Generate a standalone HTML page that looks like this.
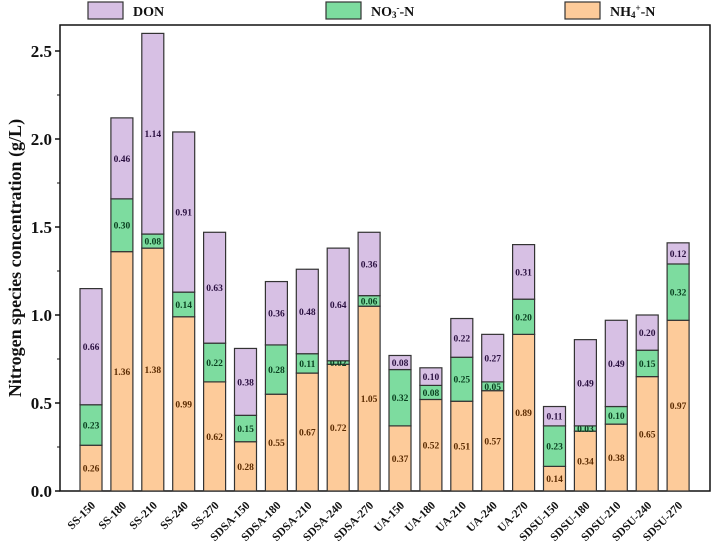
<!DOCTYPE html>
<html><head><meta charset="utf-8"><style>
html,body{margin:0;padding:0;background:#fff;}
svg{display:block;font-family:"Liberation Serif",serif;}
</style></head><body>
<svg id="chart" width="711" height="548"></svg>
<script>
const categories=["SS-150","SS-180","SS-210","SS-240","SS-270","SDSA-150","SDSA-180","SDSA-210","SDSA-240","SDSA-270","UA-150","UA-180","UA-210","UA-240","UA-270","SDSU-150","SDSU-180","SDSU-210","SDSU-240","SDSU-270"];
const nh4=[0.26,1.36,1.38,0.99,0.62,0.28,0.55,0.67,0.72,1.05,0.37,0.52,0.51,0.57,0.89,0.14,0.34,0.38,0.65,0.97];
const no3=[0.23,0.30,0.08,0.14,0.22,0.15,0.28,0.11,0.02,0.06,0.32,0.08,0.25,0.05,0.20,0.23,0.03,0.10,0.15,0.32];
const don=[0.66,0.46,1.14,0.91,0.63,0.38,0.36,0.48,0.64,0.36,0.08,0.10,0.22,0.27,0.31,0.11,0.49,0.49,0.20,0.12];
const yTicks=[0.0,0.5,1.0,1.5,2.0,2.5];

const NS="http://www.w3.org/2000/svg";
const svg=document.getElementById('chart');
function mk(t,a,p){const e=document.createElementNS(NS,t);for(const k in a)e.setAttribute(k,a[k]);(p||svg).appendChild(e);return e;}
const X0=60,X1=710,Y0=491,YT=25;
function y(v){return Y0-v*176;}
function xb(i){return 80+i*30.9;}
const BW=22;

const frame=mk('rect',{x:X0,y:YT,width:X1-X0,height:Y0-YT,fill:'none',stroke:'#111','stroke-width':1.5});



yTicks.forEach(t=>{
  const l=mk('line',{x1:X0-5,x2:X0,y1:y(t),y2:y(t),stroke:'#111','stroke-width':1.5});
  
  
  const tx=mk('text',{x:X0-8,y:y(t)+6,'text-anchor':'end','font-size':17,'font-weight':'bold',fill:'#111'});
  tx.textContent=t.toFixed(1);
  
  
});
for(let t=0.25;t<2.6;t+=0.5){
  const l=mk('line',{x1:X0-3,x2:X0,y1:y(t),y2:y(t),stroke:'#111','stroke-width':1});
  
  
}
const yt=mk('text',{x:0,y:0,transform:'translate(21,258) rotate(-90)','text-anchor':'middle','font-size':18,'font-weight':'bold',fill:'#111'});
yt.textContent='Nitrogen species concentration (g/L)';



const series=[{v:nh4,f:'#fdcb9a',c:'#5a2a00',n:'nh4'},{v:no3,f:'#7ddc9f',c:'#0a4020',n:'no3'},{v:don,f:'#d7c0e4',c:'#2a1040',n:'don'}];
categories.forEach((cat,i)=>{
  let base=0;
  series.forEach(s=>{
    const v=s.v[i];
    const r=mk('rect',{x:xb(i),y:y(base+v),width:BW,height:v*176,fill:s.f,stroke:'#333','stroke-width':1.2});
    
    
    const t=mk('text',{x:xb(i)+BW/2,y:y(base+v/2)+3.5,'text-anchor':'middle','font-size':9.5,'font-weight':'bold',fill:s.c});
    t.textContent=v.toFixed(2);
    
    
    base+=v;
  });
  const cx=xb(i)+BW/2;
  const l=mk('text',{x:0,y:0,transform:`translate(${cx+5},${Y0+15}) rotate(-45)`,'text-anchor':'end','font-size':11.5,'font-weight':'bold',fill:'#111'});
  l.textContent=cat;
  
  
});

const leg=[{x:88,f:'#d7c0e4',t:'DON'},{x:326,f:'#7ddc9f',t:'NO<tspan baseline-shift="-25%" font-size="9">3</tspan><tspan baseline-shift="super" font-size="9">-</tspan>-N'},{x:565,f:'#fdcb9a',t:'NH<tspan baseline-shift="-25%" font-size="9">4</tspan><tspan baseline-shift="super" font-size="9">+</tspan>-N'}];
leg.forEach(e=>{
  const r=mk('rect',{x:e.x,y:2,width:35,height:17,fill:e.f,stroke:'#333','stroke-width':1.2});
  
  
  const t=mk('text',{x:e.x+45,y:16,'font-size':14,'font-weight':'bold',fill:'#111'});
  t.innerHTML=e.t;
  
  
});
</script>
</body></html>
